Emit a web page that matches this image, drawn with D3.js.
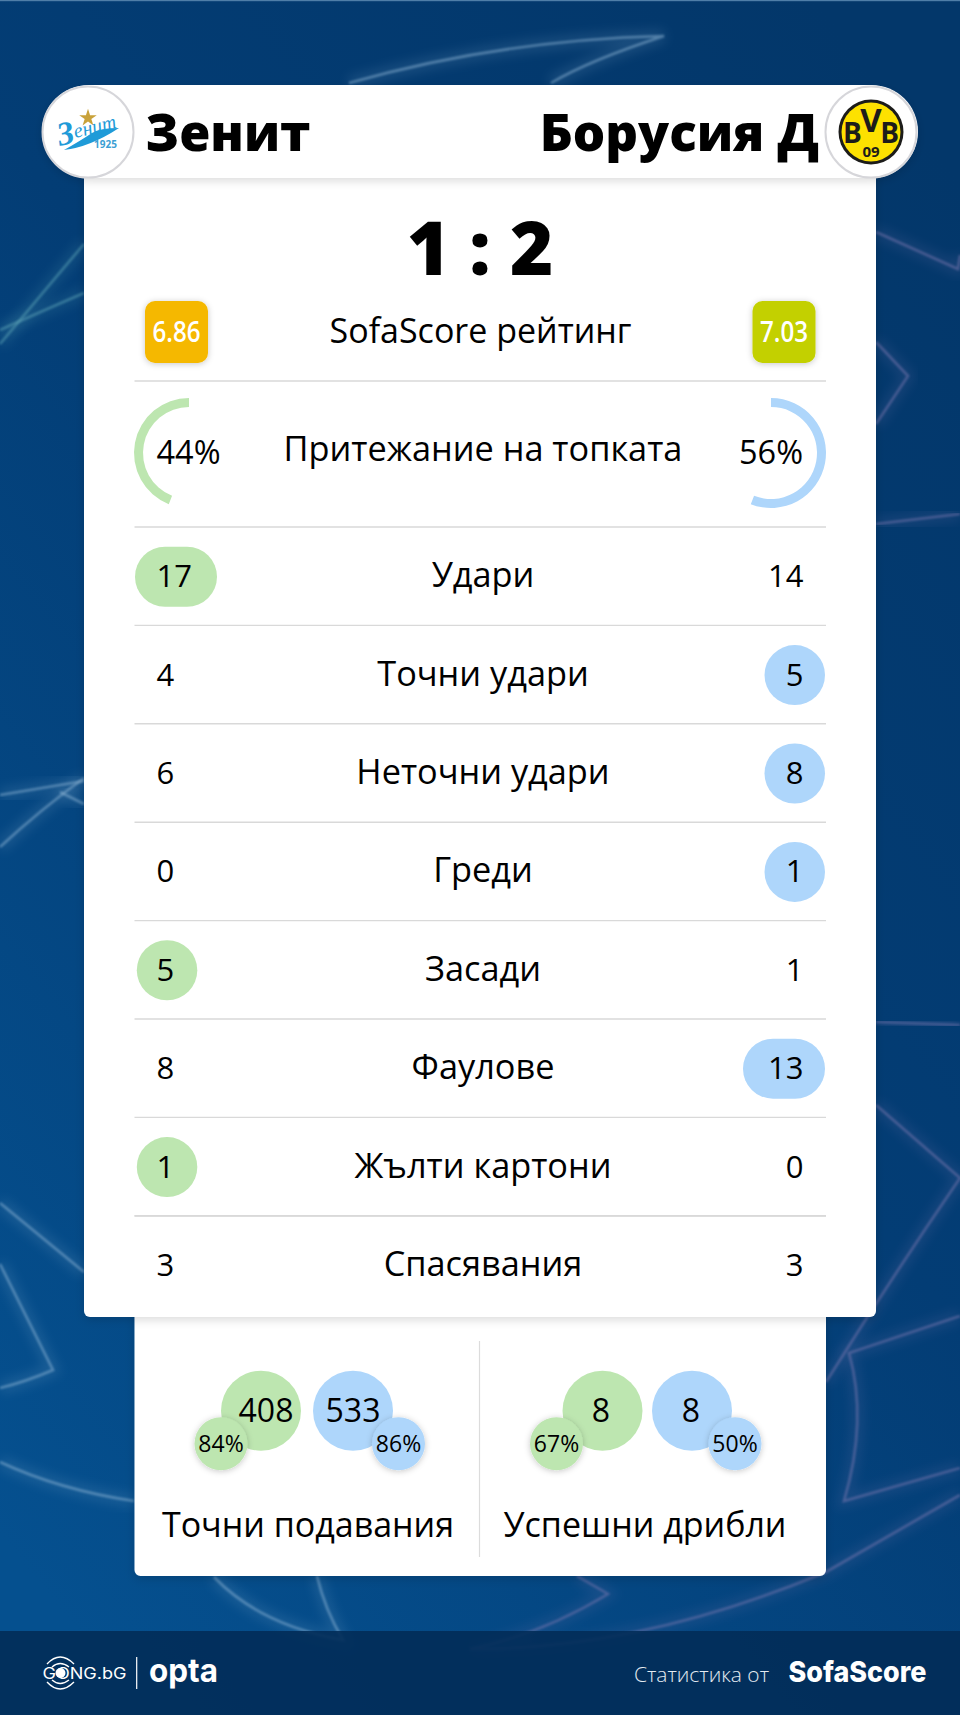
<!DOCTYPE html>
<html><head><meta charset="utf-8">
<script src="https://d3js.org/d3.v7.min.js"></script>
<style>html,body{margin:0;padding:0;background:#043d73}svg{display:block}text{font-family:"Open Sans",sans-serif;fill:#000}</style>
</head><body><div id="chart"></div>
<script>
// ---- data ----
const teams = ["Зенит", "Борусия Д"];
const score = "1 : 2";
const ratingLabel = "SofaScore рейтинг";
const ratings = ["6.86", "7.03"];
const possessionLabel = "Притежание на топката";
const possession = [44, 56];
const rowLabels = ["Удари", "Точни удари", "Неточни удари", "Греди", "Засади", "Фаулове", "Жълти картони", "Спасявания"];
const homeValues = [17, 4, 6, 0, 5, 8, 1, 3];
const awayValues = [14, 5, 8, 1, 1, 13, 0, 3];
const duelLabels = ["Точни подавания", "Успешни дрибли"];
const duelHome = [408, 8];
const duelAway = [533, 8];
const duelHomePct = [84, 67];
const duelAwayPct = [86, 50];

// ---- palette ----
const GREEN = "#bde6b0", BLUE = "#aed6fb";
const W = 960, H = 1715;
const svg = d3.select("#chart").append("svg").attr("width", W).attr("height", H).attr("viewBox", [0, 0, W, H]);
const defs = svg.append("defs");
const bg = defs.append("linearGradient").attr("id", "bg").attr("x1", .85).attr("y1", 0).attr("x2", .15).attr("y2", 1);
bg.append("stop").attr("offset", 0).attr("stop-color", "#03376a");
bg.append("stop").attr("offset", .45).attr("stop-color", "#033d75");
bg.append("stop").attr("offset", 1).attr("stop-color", "#05508f");
const blur = defs.append("filter").attr("id", "glow").attr("x", "-30%").attr("y", "-30%").attr("width", "160%").attr("height", "160%");
blur.append("feGaussianBlur").attr("stdDeviation", 6);
const soft = defs.append("filter").attr("id", "soft").attr("x", "-10%").attr("y", "-10%").attr("width", "120%").attr("height", "120%");
soft.append("feGaussianBlur").attr("stdDeviation", 1);
function shadow(id, dy, sd, op) {
  const f = defs.append("filter").attr("id", id).attr("x", "-20%").attr("y", "-20%").attr("width", "140%").attr("height", "140%");
  f.append("feDropShadow").attr("dx", 0).attr("dy", dy).attr("stdDeviation", sd).attr("flood-color", "#000").attr("flood-opacity", op);
}
shadow("sh", 3, 5, .14); shadow("shs", 1, 3, .22);

// ---- background ----
svg.append("rect").attr("width", W).attr("height", H).attr("fill", "url(#bg)");
svg.append("rect").attr("width", W).attr("height", 1.2).attr("fill", "#4f7ea8");
const teal = "#5fa6b8", pale = "#8fb6d6", violet = "#7d78b0";
const decor = [
  [teal, "M0,344 Q40,296 84,244"], [teal, "M0,330 Q40,312 84,293"],
  [pale, "M0,795 L84,781"], [pale, "M0,847 Q40,810 84,778"], [pale, "M60,792 L84,804"],
  [pale, "M0,1203 L84,1272"], [pale, "M0,1264 L53,1370 Q25,1382 0,1388"], [pale, "M0,1462 Q60,1490 134,1501"],
  [pale, "M214,1577 Q260,1625 343,1640 Q325,1610 317,1576"],
  [violet, "M577,1576 L608,1594 Q540,1635 470,1649 Q640,1650 826,1572 L960,1495"],
  [violet, "M876,232 L958,269 L960,255"], [violet, "M876,342 L908,376 L876,424"], [violet, "M876,524 L960,514"],
  [violet, "M876,1022 L960,1025"], [violet, "M876,1105 L960,1178 Q890,1280 826,1382"],
  [violet, "M960,1316 L849,1353 Q868,1420 844,1501 L960,1468"],
  [pale, "M349,83 Q500,40 664,36 Q590,60 551,83"]
];
const dg = svg.append("g").attr("fill", "none").attr("stroke-linejoin", "miter");
dg.selectAll("path.g").data(decor).join("path").attr("class", "g").attr("d", d => d[1]).attr("stroke", d => d[0])
  .attr("stroke-width", 12).attr("opacity", .16).attr("filter", "url(#glow)");
dg.selectAll("path.c").data(decor).join("path").attr("class", "c").attr("d", d => d[1]).attr("stroke", d => d[0])
  .attr("stroke-width", 2.6).attr("opacity", .5).attr("filter", "url(#soft)");

// ---- footer ----
svg.append("rect").attr("y", 1631).attr("width", W).attr("height", H - 1631).attr("fill", "#022c58").attr("opacity", .9);

// ---- cards ----
svg.append("path").attr("d", "M134.5,1300H826V1570a6,6 0 0 1 -6,6H140.5a6,6 0 0 1 -6,-6Z").attr("fill", "#fff").attr("filter", "url(#sh)");
svg.append("path").attr("d", "M84,160H876V1311a6,6 0 0 1 -6,6H90a6,6 0 0 1 -6,-6Z").attr("fill", "#fff").attr("filter", "url(#sh)");
svg.append("rect").attr("x", 42).attr("y", 85).attr("width", 876).attr("height", 93).attr("rx", 46.5).attr("fill", "#fff").attr("filter", "url(#sh)");

// ---- header ----
const crest = [88, 871];
svg.selectAll("circle.crest").data(crest).join("circle").attr("class", "crest").attr("cx", d => d).attr("cy", 132).attr("r", 45.5)
  .attr("fill", "#fff").attr("stroke", "#d6d6da").attr("stroke-width", 2);
svg.append("text").attr("x", 145.5).attr("y", 151).attr("font-size", 50.5).attr("font-weight", 800).text(teams[0]);
svg.append("text").attr("x", 819).attr("y", 151).attr("text-anchor", "end").attr("font-size", 51).attr("font-weight", 800).text(teams[1]);

// Zenit crest
const zen = svg.append("g");
zen.append("path").attr("d", d3.symbol(d3.symbolStar, 95)()).attr("transform", "translate(88,118)").attr("fill", "#c9a23a");
const zt = zen.append("text").attr("transform", "translate(60,146) rotate(-14)").attr("font-style", "italic")
  .style("font-family", "'Liberation Serif',serif").style("fill", "#1f9bd8");
zt.append("tspan").attr("font-size", 33).attr("font-weight", 700).text("З");
zt.append("tspan").attr("font-size", 20).attr("dy", -4).text("енит");
zen.append("path").attr("d", "M119,128 Q100,128 92,133 Q80,141 64,150 Q90,147 119,128Z").attr("fill", "#1f9bd8");
zen.append("text").attr("x", 105.5).attr("y", 148).attr("text-anchor", "middle").attr("font-size", 10).attr("font-weight", 700).style("fill", "#3c9fd4").text("1925");

// BVB crest
const bvb = svg.append("g");
bvb.append("circle").attr("cx", 871).attr("cy", 132).attr("r", 32.5).attr("fill", "#1c1c1a");
bvb.append("circle").attr("cx", 871).attr("cy", 132).attr("r", 29.5).attr("fill", "#fde100");
const bt = bvb.append("text").attr("x", 843).attr("y", 143).attr("font-weight", 700).style("fill", "#1c1c1a");
bt.append("tspan").attr("font-size", 28).text("B");
bt.append("tspan").attr("font-size", 33).attr("dx", -1.5).attr("dy", -11).text("V");
bt.append("tspan").attr("font-size", 28).attr("dx", -1.5).attr("dy", 11).text("B");
bvb.append("text").attr("x", 871).attr("y", 157).attr("text-anchor", "middle").attr("font-size", 15).attr("font-weight", 700).style("fill", "#1c1c1a").text("09");

// ---- score ----
svg.append("text").attr("x", 480).attr("y", 275).attr("text-anchor", "middle").attr("font-size", 74).attr("font-weight", 800).text(score);

// ---- rating ----
const ratingFill = ["#f5b800", "#c3d000"];
const ratingX = d3.scalePoint().domain([0, 1]).range([176.5, 784]);
const rg = svg.selectAll("g.rt").data(ratings).join("g").attr("class", "rt").attr("transform", (d, i) => `translate(${ratingX(i)},332)`);
rg.append("rect").attr("x", -31.5).attr("y", -31).attr("width", 63).attr("height", 62).attr("rx", 10)
  .attr("fill", (d, i) => ratingFill[i]).attr("filter", "url(#shs)");
rg.append("text").attr("text-anchor", "middle").attr("y", 10).attr("font-size", 29).attr("font-weight", 600)
  .attr("textLength", 48).attr("lengthAdjust", "spacingAndGlyphs").style("fill", "#fff").text(d => d);
svg.append("text").attr("x", 480.5).attr("y", 343).attr("text-anchor", "middle").attr("font-size", 34).attr("font-weight", 500).text(ratingLabel);

// ---- row rules ----
const ruleY = [381, ...d3.range(0, 8).map(i => 527 + i * 98.4), 1216];
svg.selectAll("line.rule").data(ruleY).join("line").attr("class", "rule")
  .attr("x1", 134.5).attr("x2", 826).attr("y1", d => d).attr("y2", d => d).attr("stroke", "#d9d9d9").attr("stroke-width", 1.4);

// ---- possession ----
const angle = d3.scaleLinear().domain([0, 100]).range([0, 2 * Math.PI]);
const arc = d3.arc().innerRadius(46).outerRadius(55);
const possCx = [189, 771], possSign = [-1, 1], possFill = [GREEN, BLUE], possTextX = [188.5, 771];
svg.selectAll("path.poss").data(possession).join("path").attr("class", "poss")
  .attr("transform", (d, i) => `translate(${possCx[i]},453)`).attr("fill", (d, i) => possFill[i])
  .attr("d", (d, i) => arc({ startAngle: 0, endAngle: possSign[i] * angle(d) }));
svg.selectAll("text.poss").data(possession).join("text").attr("class", "poss")
  .attr("x", (d, i) => possTextX[i]).attr("y", 464).attr("text-anchor", "middle").attr("font-size", 32.5).attr("font-weight", 500).text(d => d + "%");
svg.append("text").attr("x", 483).attr("y", 461).attr("text-anchor", "middle").attr("font-size", 34.3).attr("font-weight", 500).text(possessionLabel);

// ---- rows ----
const y = d3.scaleBand().domain(rowLabels).range([527, 527 + 98.4 * rowLabels.length]);
const rows = svg.selectAll("g.row").data(rowLabels).join("g").attr("class", "row")
  .attr("transform", d => `translate(0,${y(d) + y.bandwidth() / 2 + .5})`);
rows.append("text").attr("x", 483).attr("y", 10.5).attr("text-anchor", "middle").attr("font-size", 34.3).attr("font-weight", 500).text(d => d);
rows.each(function (d, i) {
  const g = d3.select(this), h = homeValues[i], a = awayValues[i];
  const wide = v => String(v).length > 1;
  const pillW = v => wide(v) ? 82 : 60.5;
  if (h > a) g.append("rect").attr("x", wide(h) ? 135 : 136.8).attr("y", -30).attr("width", pillW(h)).attr("height", 60).attr("rx", 30).attr("fill", GREEN);
  if (a > h) g.append("rect").attr("x", 825 - pillW(a)).attr("y", -30).attr("width", pillW(a)).attr("height", 60).attr("rx", 30).attr("fill", BLUE);
  g.append("text").attr("x", 156.5).attr("y", 10.5).attr("font-size", 31).attr("font-weight", 500).text(h);
  g.append("text").attr("x", 803.5).attr("y", 10.5).attr("text-anchor", "end").attr("font-size", 31).attr("font-weight", 500).text(a);
});

// ---- duels ----
svg.append("line").attr("x1", 479.5).attr("x2", 479.5).attr("y1", 1341).attr("y2", 1557).attr("stroke", "#dcdcdc").attr("stroke-width", 1.2);
const layout = [
  { hb: 261, ab: 353, hs: 221, as: 398.5, ht: 266, at: 353, lx: 308 },
  { hb: 602.5, ab: 692, hs: 556.5, as: 735, ht: 601, at: 691, lx: 645 }
];
const duels = svg.selectAll("g.duel").data(duelLabels).join("g").attr("class", "duel");
duels.each(function (d, i) {
  const g = d3.select(this), p = layout[i];
  g.append("circle").attr("cx", p.hb).attr("cy", 1410.7).attr("r", 40).attr("fill", GREEN);
  g.append("circle").attr("cx", p.ab).attr("cy", 1410.7).attr("r", 40).attr("fill", BLUE);
  g.append("circle").attr("cx", p.hs).attr("cy", 1443.7).attr("r", 26.5).attr("fill", GREEN).attr("filter", "url(#shs)");
  g.append("circle").attr("cx", p.as).attr("cy", 1443.7).attr("r", 26.5).attr("fill", BLUE).attr("filter", "url(#shs)");
  g.append("text").attr("x", p.ht).attr("y", 1421.7).attr("text-anchor", "middle").attr("font-size", 32).attr("font-weight", 500).text(duelHome[i]);
  g.append("text").attr("x", p.at).attr("y", 1421.7).attr("text-anchor", "middle").attr("font-size", 32).attr("font-weight", 500).text(duelAway[i]);
  g.append("text").attr("x", p.hs).attr("y", 1452).attr("text-anchor", "middle").attr("font-size", 23).attr("font-weight", 500).text(duelHomePct[i] + "%");
  g.append("text").attr("x", p.as).attr("y", 1452).attr("text-anchor", "middle").attr("font-size", 23).attr("font-weight", 500).text(duelAwayPct[i] + "%");
  g.append("text").attr("x", p.lx).attr("y", 1536.5).attr("text-anchor", "middle").attr("font-size", 34).attr("font-weight", 500).text(d);
});

// ---- footer marks ----
const ft = svg.append("g");
ft.append("text").attr("x", 42.5).attr("y", 1679).attr("font-size", 15.5).attr("textLength", 84).attr("lengthAdjust", "spacingAndGlyphs")
  .style("font-family", "Inter,sans-serif").style("fill", "#fff").text("GONG.bG");
ft.append("circle").attr("cx", 60.5).attr("cy", 1673).attr("r", 5).attr("fill", "#fff");
const ringArcs = ["M47,1664 Q60,1650 74,1664", "M52,1667 Q60,1660 69,1667", "M47,1682 Q60,1696 74,1682", "M52,1680 Q60,1687 69,1680"];
ft.selectAll("path").data(ringArcs).join("path").attr("d", d => d).attr("fill", "none").attr("stroke", "#fff").attr("stroke-width", 1.4);
ft.append("line").attr("x1", 136.7).attr("x2", 136.7).attr("y1", 1657).attr("y2", 1689).attr("stroke", "#fff").attr("stroke-width", 1.2);
ft.append("text").attr("x", 149).attr("y", 1682).attr("font-size", 33).attr("font-weight", 700).attr("textLength", 69).attr("lengthAdjust", "spacingAndGlyphs")
  .style("font-family", "Inter,sans-serif").style("fill", "#fff").text("opta");
ft.append("text").attr("x", 634).attr("y", 1681.5).attr("font-size", 20).attr("font-weight", 300).attr("textLength", 135).attr("lengthAdjust", "spacingAndGlyphs")
  .style("fill", "#e4ebf2").text("Статистика от");
ft.append("text").attr("x", 788.5).attr("y", 1682).attr("font-size", 29).attr("font-weight", 800).attr("textLength", 138).attr("lengthAdjust", "spacingAndGlyphs")
  .style("font-family", "Inter,sans-serif").style("fill", "#fff").text("SofaScore");
</script></body></html>
